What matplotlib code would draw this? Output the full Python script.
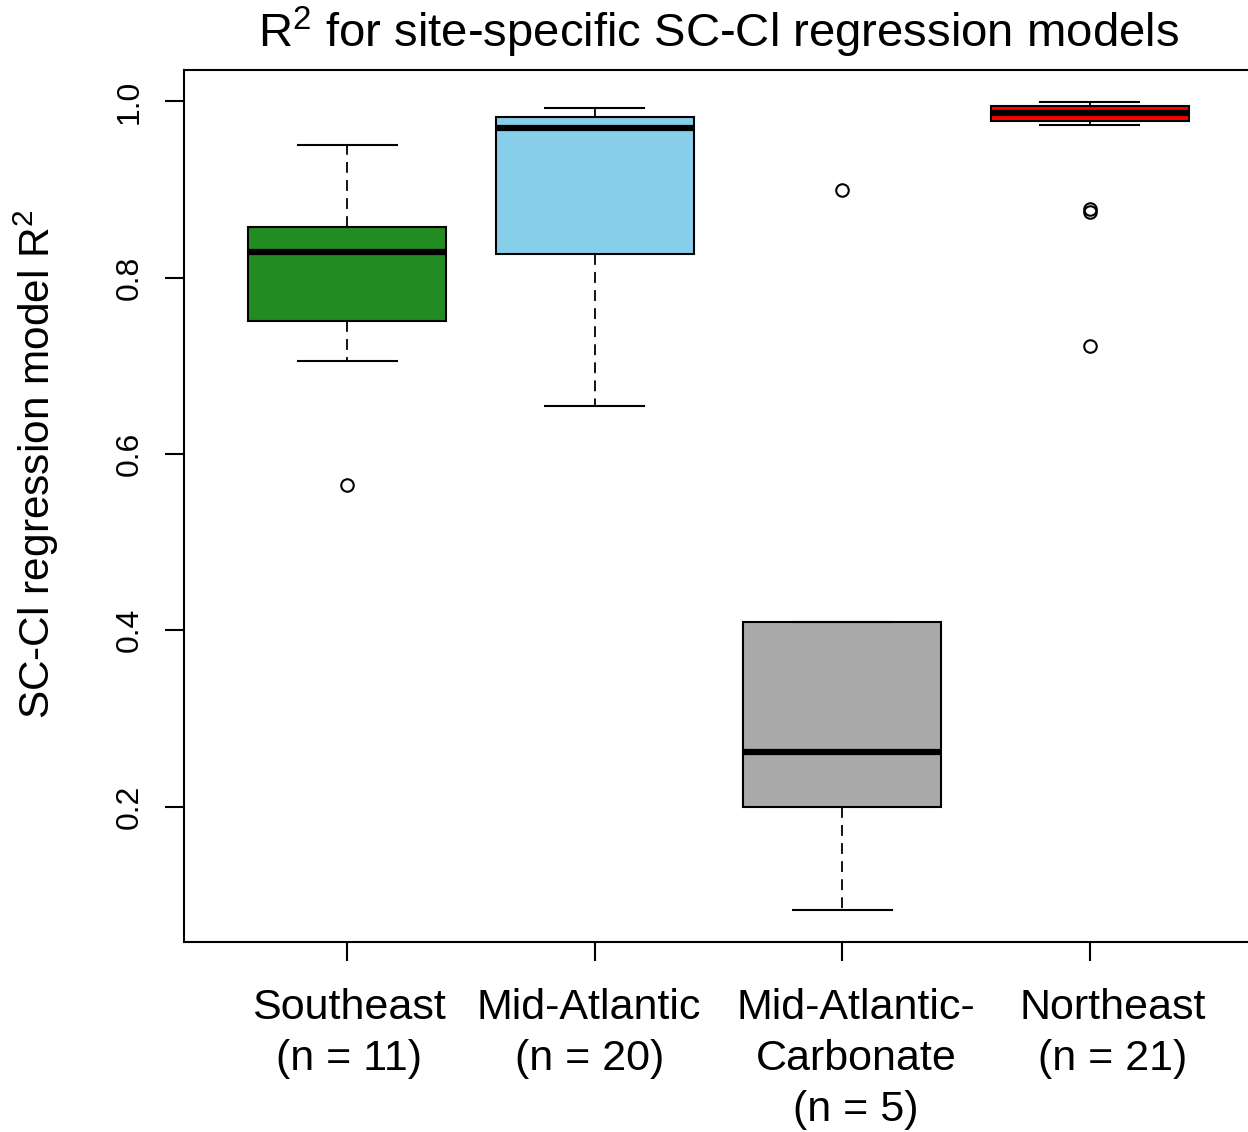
import matplotlib
matplotlib.use("Agg")
import matplotlib.pyplot as plt
import matplotlib.transforms as mtransforms

plt.rcParams["font.family"] = ["Liberation Sans", "DejaVu Sans"]
plt.rcParams["mathtext.default"] = "regular"

# --- Data: per-region summary of site R^2 values ---
regions = ["Southeast", "Mid-Atlantic", "Mid-Atlantic-\nCarbonate", "Northeast"]
n_sites = [11, 20, 5, 21]
box_colors = ["#228B22", "#87CEEB", "#A9A9A9", "#FF0000"]

whisker_low = [0.705, 0.655, 0.083, 0.973]
q1 = [0.751, 0.827, 0.199, 0.978]
median = [0.829, 0.970, 0.262, 0.987]
q3 = [0.858, 0.982, 0.409, 0.995]
whisker_high = [0.951, 0.992, 0.409, 0.999]
outliers = [[0.565], [], [0.899], [0.878, 0.875, 0.722]]

# small horizontal nudges (points) for the group labels
label_shift_pt = [1.5, -4, 10, 16.5]

stats = []
for i in range(len(regions)):
    stats.append(dict(med=median[i], q1=q1[i], q3=q3[i],
                      whislo=whisker_low[i], whishi=whisker_high[i],
                      fliers=outliers[i]))
positions = list(range(1, len(regions) + 1))

# --- Plot ---
fig = plt.figure(figsize=(12.48, 11.32), dpi=100)
ax = fig.add_axes([184 / 1248, 1 - 942 / 1132, 1069 / 1248, 872 / 1132])

bp = ax.bxp(stats, positions=positions, widths=0.8, patch_artist=True,
            manage_ticks=False,
            boxprops=dict(linewidth=1.5, edgecolor="black"),
            medianprops=dict(color="black", linewidth=4.5, solid_capstyle="butt"),
            whiskerprops=dict(color="black", linewidth=1.3, linestyle=(0, (6, 4))),
            capprops=dict(color="black", linewidth=1.5),
            flierprops=dict(marker="o", markerfacecolor="none",
                            markeredgecolor="black", markersize=9,
                            markeredgewidth=1.5))
for patch, color in zip(bp["boxes"], box_colors):
    patch.set_facecolor(color)

# R-style axis limits: data range padded by 4%
all_vals = whisker_low + whisker_high + [v for o in outliers for v in o]
lo, hi = min(all_vals), max(all_vals)
pad = 0.04 * (hi - lo)
ax.set_ylim(lo - pad, hi + pad)
ax.set_xlim(0.5 - 0.04 * len(regions), len(regions) + 0.5 + 0.04 * len(regions))

ax.set_yticks([0.2, 0.4, 0.6, 0.8, 1.0])
ax.set_yticklabels(["0.2", "0.4", "0.6", "0.8", "1.0"], rotation=90, va="center")
ax.tick_params(axis="y", length=14, width=1.5, labelsize=23, pad=14)

ax.set_xticks(positions)
ax.set_xticklabels([f"{r}\n(n = {n})" for r, n in zip(regions, n_sites)],
                   fontsize=31, linespacing=1.36)
ax.tick_params(axis="x", length=14, width=1.5, pad=19)
for lbl, dx in zip(ax.get_xticklabels(), label_shift_pt):
    lbl.set_transform(lbl.get_transform() +
                      mtransforms.ScaledTranslation(dx / 72, 0, fig.dpi_scale_trans))

for sp in ax.spines.values():
    sp.set_linewidth(1.5)

ax.set_title("R$^2$ for site-specific SC-Cl regression models", fontsize=34, pad=16)
fig.text(36 / 1248, 1 - 464 / 1132, "SC-Cl regression model R$^2$",
         rotation=90, ha="center", va="center", fontsize=30.5)

fig.savefig("out.png", dpi=100)
